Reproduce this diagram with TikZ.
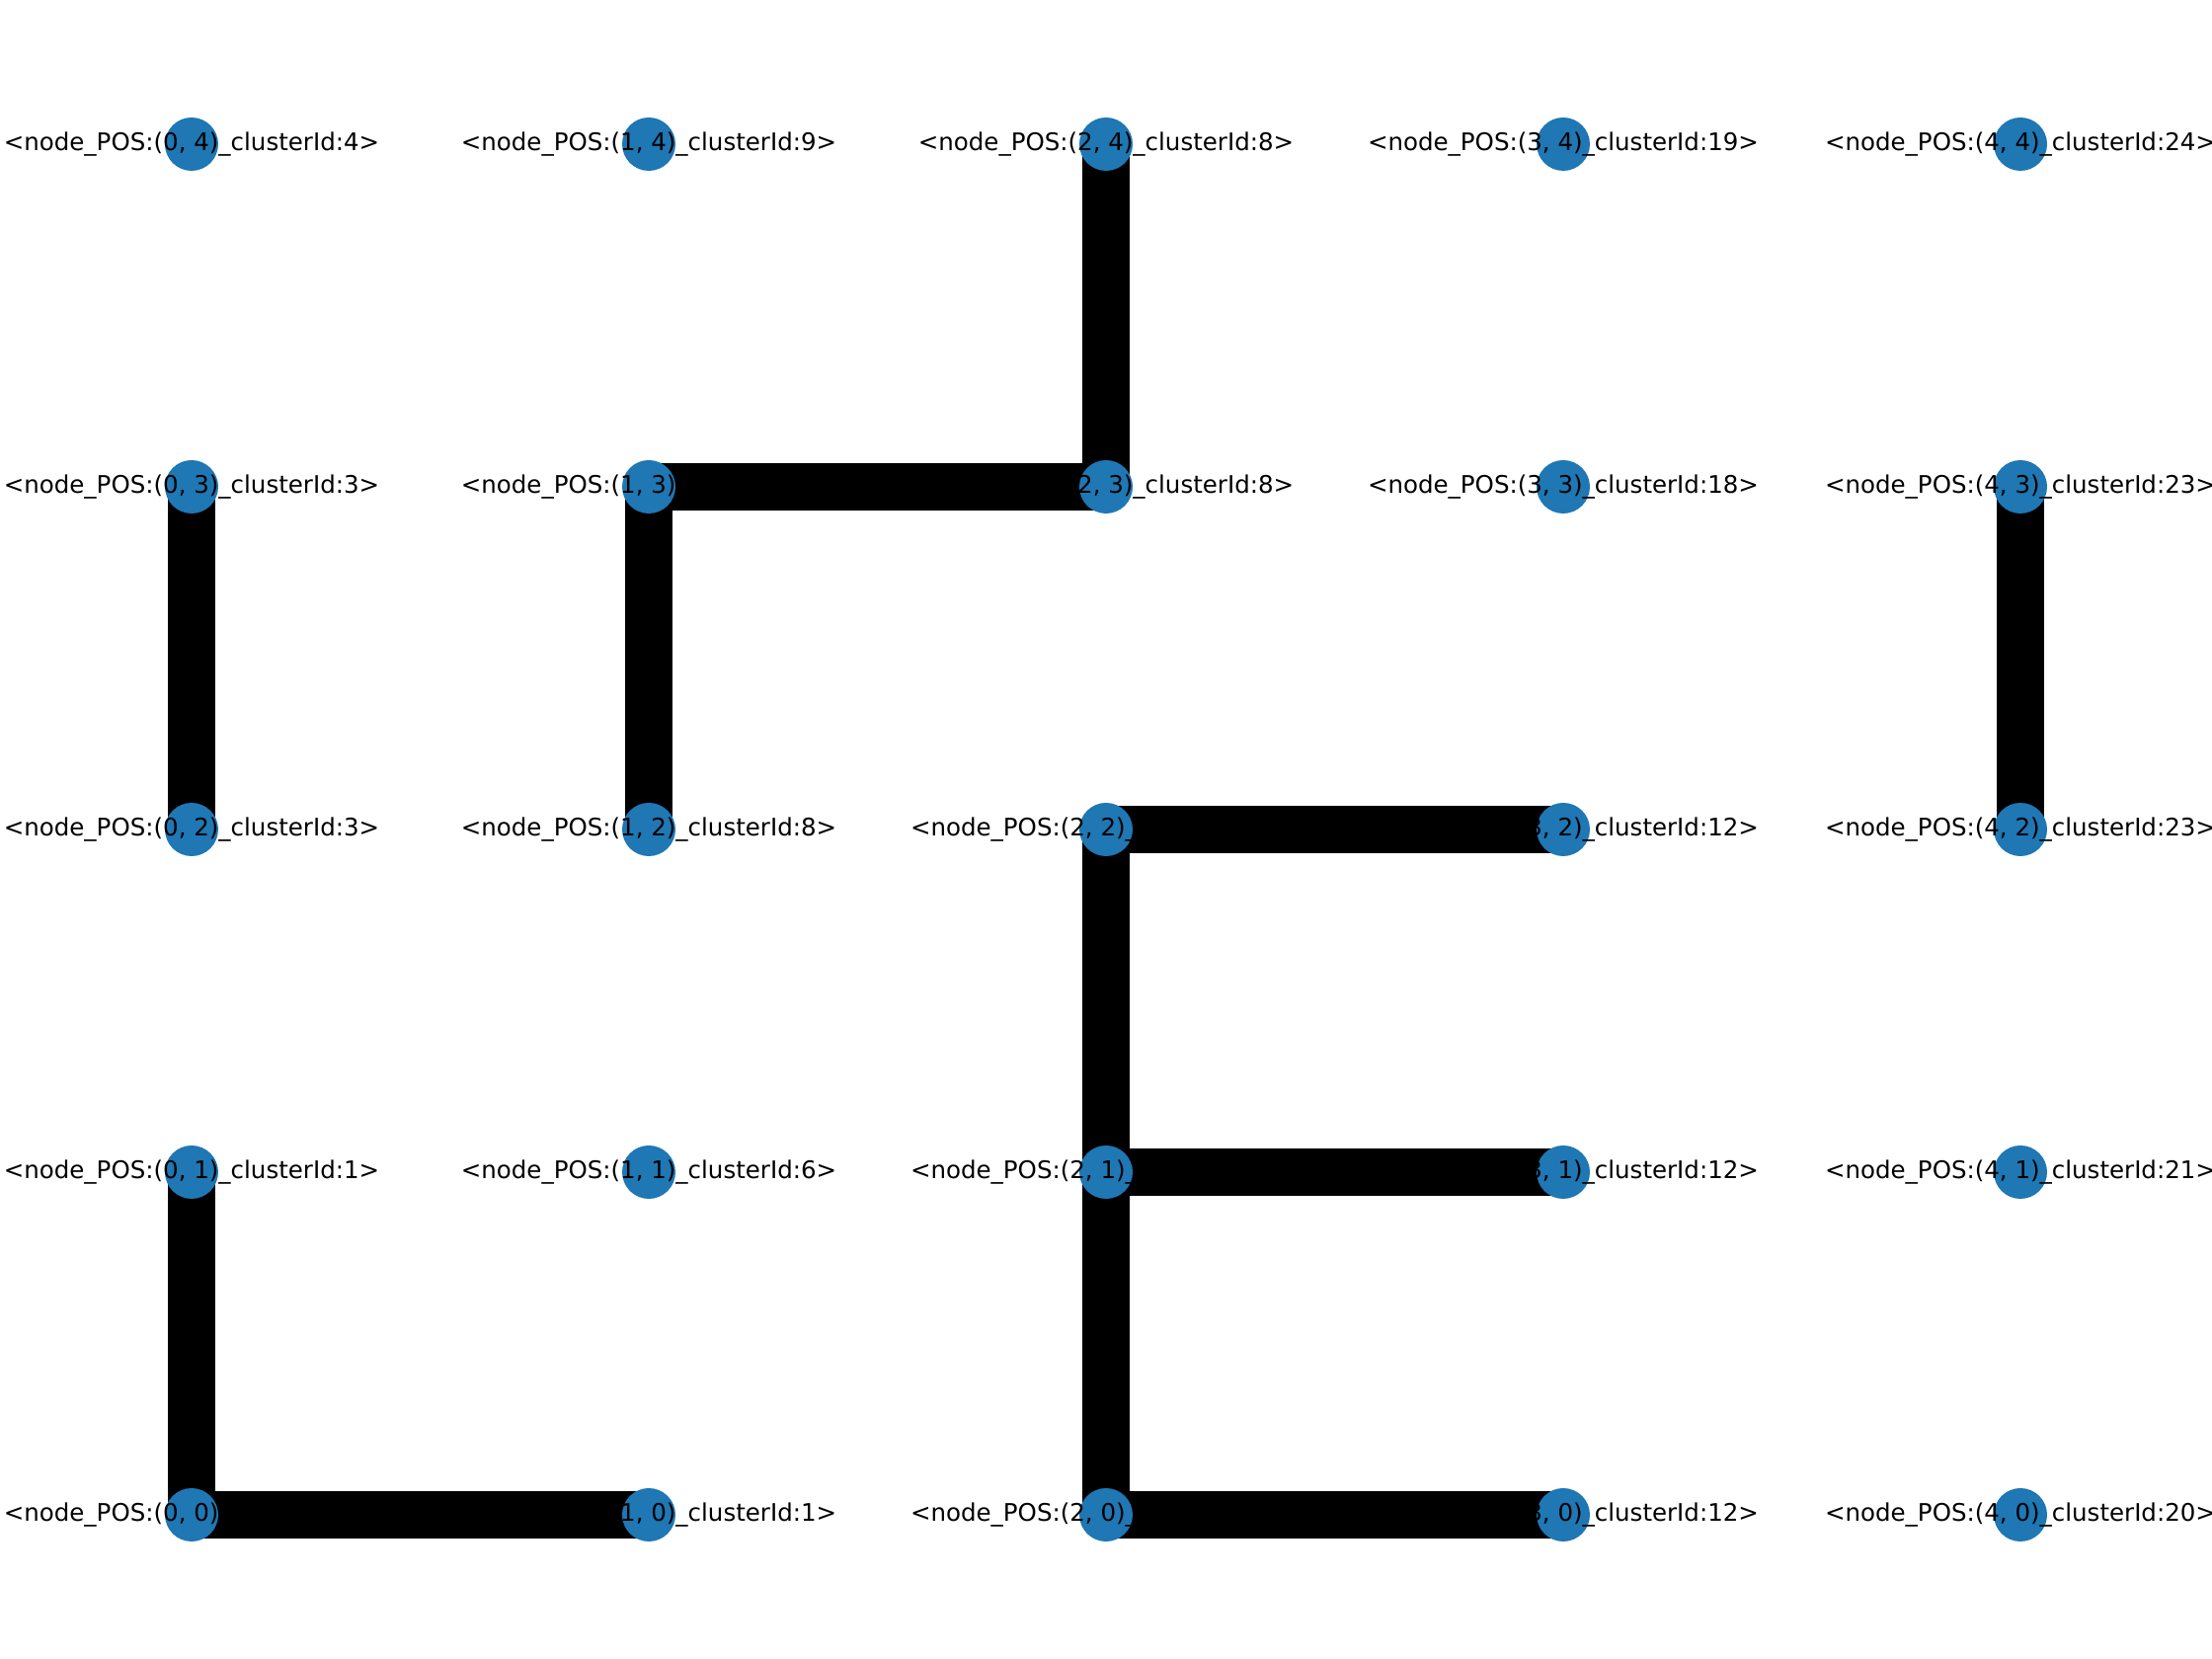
\documentclass[tikz,border=0pt]{standalone}
\usepackage{fontspec}
\setmainfont{DejaVu Sans}
\definecolor{nodeblue}{HTML}{1F77B4}

\begin{document}
\begin{tikzpicture}[x=1pt, y=1pt,
    vertex/.style={circle, fill=nodeblue, draw=none, minimum size=54pt, inner sep=0pt},
    poslabel/.style={font=\fontsize{24.5}{29}\selectfont, text=black, inner sep=0pt},
    link/.style={line width=48pt, line cap=butt, black}]
    \useasboundingbox (0,0) rectangle (2240,1680);

    % Grid positions
    \foreach \i in {0,...,4} {
        \foreach \j in {0,...,4} {
            \coordinate (c-\i-\j) at ({194+463*\i}, {146+347*\j});
        }
    }

    % Edges of the clusters
    \draw[link] (c-0-3) -- (c-0-2);
    \draw[link] (c-0-1) -- (c-0-0);
    \draw[link] (c-0-0) -- (c-1-0);
    \draw[link] (c-1-3) -- (c-1-2);
    \draw[link] (c-1-3) -- (c-2-3);
    \draw[link] (c-2-3) -- (c-2-4);
    \draw[link] (c-2-2) -- (c-3-2);
    \draw[link] (c-2-2) -- (c-2-1);
    \draw[link] (c-2-1) -- (c-3-1);
    \draw[link] (c-2-1) -- (c-2-0);
    \draw[link] (c-2-0) -- (c-3-0);
    \draw[link] (c-4-3) -- (c-4-2);

    % Nodes with their labels (i, j, cluster id)
    \foreach \i/\j/\cid in {0/4/4, 1/4/9, 2/4/8, 3/4/19, 4/4/24,
                            0/3/3, 1/3/8, 2/3/8, 3/3/18, 4/3/23,
                            0/2/3, 1/2/8, 2/2/12, 3/2/12, 4/2/23,
                            0/1/1, 1/1/6, 2/1/12, 3/1/12, 4/1/21,
                            0/0/1, 1/0/1, 2/0/12, 3/0/12, 4/0/20} {
        \node[vertex] (v-\i-\j) at (c-\i-\j) {};
        \node[poslabel] (t-\i-\j) at (v-\i-\j) {<node\_POS:(\i, \j)\_clusterId:\cid>};
    }
\end{tikzpicture}
\end{document}
